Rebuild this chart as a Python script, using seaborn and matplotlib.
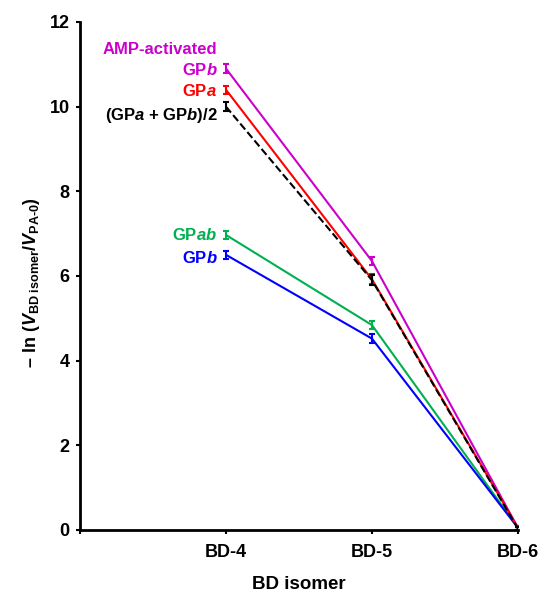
import pandas as pd
import matplotlib
matplotlib.use("Agg")
import matplotlib.pyplot as plt
import seaborn as sns

# data
isomers = ["BD-4", "BD-5", "BD-6"]
amp_gpb = [10.90, 6.35, 0.05]
gpa = [10.40, 5.92, 0.05]
gp_avg = [10.00, 5.90, 0.03]
gpab = [6.97, 4.84, 0.05]
gpb = [6.50, 4.52, 0.05]
err_amp = [0.10, 0.10, 0.04]
err_gpa = [0.10, 0.12, 0.04]
err_avg = [0.10, 0.12, 0.04]
err_gpab = [0.10, 0.10, 0.04]
err_gpb = [0.10, 0.10, 0.04]

names = ["amp", "gpa", "avg", "gpab", "gpb"]
vals = [amp_gpb, gpa, gp_avg, gpab, gpb]
errs = [err_amp, err_gpa, err_avg, err_gpab, err_gpb]
colors = {"amp": "#CC00CC", "gpa": "#FF0000", "avg": "#000000",
          "gpab": "#00B050", "gpb": "#0000FF"}

rows = []
for n, v in zip(names, vals):
    for i, y in enumerate(v):
        rows.append({"series": n, "x": i + 1, "y": y})
df = pd.DataFrame(rows)

sns.set_style("ticks")
plt.rcParams['font.family'] = ['Liberation Sans', 'DejaVu Sans']
plt.rcParams['font.weight'] = 'bold'
plt.rcParams['mathtext.fontset'] = 'custom'
plt.rcParams['mathtext.rm'] = 'Liberation Sans:bold'
plt.rcParams['mathtext.it'] = 'Liberation Sans:bold:italic'
plt.rcParams['mathtext.bf'] = 'Liberation Sans:bold'

fig = plt.figure(figsize=(5.45, 5.92), dpi=100)
ax = fig.add_axes([80 / 545, 62 / 592, 438 / 545, 508 / 592])

# draw order: green, blue, magenta, red, dashed black on top
order = ["gpab", "gpb", "amp", "gpa", "avg"]
for n in order:
    d = df[df.series == n]
    sns.lineplot(data=d, x="x", y="y", ax=ax, color=colors[n], lw=1.5,
                 linestyle="--" if n == "avg" else "-", legend=False)
    e = errs[names.index(n)]
    ax.errorbar(d.x, d.y, yerr=e, fmt="none", ecolor=colors[n],
                elinewidth=1.5, capsize=2, capthick=1.5)

ax.set_xlim(0, 3)
ax.set_ylim(0, 12)
ax.set_xticks([0, 1, 2, 3])
ax.set_xticklabels(["", "BD-4", "BD-5", "BD-6"])
ax.set_yticks(range(0, 13, 2))
ax.tick_params(axis="both", direction="out", length=3, width=1.5,
               labelsize=13, labelcolor="black", color="black")
for lab in ax.get_xticklabels() + ax.get_yticklabels():
    lab.set_fontweight("bold")
ax.tick_params(axis="x", pad=7)
ax.tick_params(axis="y", pad=4.5)
sns.despine(ax=ax)
for s in ["left", "bottom"]:
    ax.spines[s].set_linewidth(2)
    ax.spines[s].set_color("black")

ax.set_xlabel("BD isomer", fontsize=13.5, fontweight="bold", labelpad=11,
              color="black")
ax.set_ylabel(r"– ln ($\mathit{V}_{\mathrm{BD\ isomer}}$/$\mathit{V}_{\text{PA-0}}$)",
              fontsize=13, fontweight="bold", color="black")
ax.yaxis.set_label_coords(-0.087, 0.487)

# series labels
tx = 0.94
fs = 12
ax.text(tx, 11.35, "AMP-activated", color=colors["amp"], ha="right",
        va="center", fontsize=fs, fontweight="bold")
ax.text(tx, 10.87, r"GP$\mathit{b}$", color=colors["amp"], ha="right",
        va="center", fontsize=fs, fontweight="bold")
ax.text(tx, 10.37, r"GP$\mathit{a}$", color=colors["gpa"], ha="right",
        va="center", fontsize=fs, fontweight="bold")
ax.text(tx, 9.80, r"(GP$\mathit{a}$ + GP$\mathit{b}$)/2", color=colors["avg"],
        ha="right", va="center", fontsize=fs, fontweight="bold")
ax.text(tx, 6.97, r"GP$\mathit{ab}$", color=colors["gpab"], ha="right",
        va="center", fontsize=fs, fontweight="bold")
ax.text(tx, 6.42, r"GP$\mathit{b}$", color=colors["gpb"], ha="right",
        va="center", fontsize=fs, fontweight="bold")

fig.savefig("out.png", dpi=100)
